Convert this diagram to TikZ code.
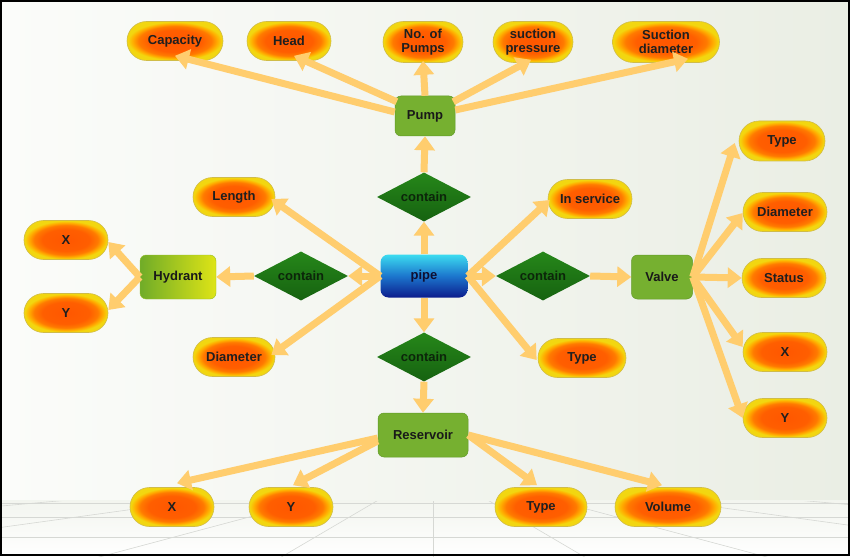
\documentclass[tikz,border=0pt]{standalone}
\usepackage{fontspec}
\setmainfont{Liberation Sans}
\usetikzlibrary{shapes.geometric,shapes.misc,arrows.meta,calc}
\definecolor{arr}{RGB}{255,205,110}
\definecolor{gfill}{RGB}{118,176,48}
\definecolor{gdark}{RGB}{98,155,40}
\definecolor{diatop}{RGB}{38,135,26}
\definecolor{diabot}{RGB}{22,98,16}
\definecolor{pilledge}{RGB}{208,188,72}
\definecolor{bgl}{RGB}{251,252,250}
\definecolor{bgr}{RGB}{234,238,228}
\definecolor{floorc}{RGB}{214,216,212}
\pgfdeclareradialshading{pillshade}{\pgfpoint{0bp}{0bp}}{rgb(0bp)=(1,0.34,0); rgb(14bp)=(1,0.37,0); rgb(19bp)=(1,0.48,0); rgb(22bp)=(1,0.68,0); rgb(24.5bp)=(0.95,0.84,0.06); rgb(50bp)=(0.93,0.85,0.12)}
\begin{document}
\begin{tikzpicture}[x=1pt,y=-1pt,
  txt/.style={font=\fontsize{13}{13.5}\selectfont\bfseries},
  pill/.style={rounded rectangle, shading=pillshade, draw=pilledge, line width=0.6pt,
    minimum height=39pt, minimum width=88pt, inner sep=2pt, txt, text=black!88, align=center},
  gbox/.style={rectangle, rounded corners=6pt, fill=gfill, draw=gdark, line width=0.5pt,
    minimum height=42pt, minimum width=60pt, txt, text=black!90},
  diam/.style={diamond, aspect=1.85, minimum width=94pt, minimum height=49pt, inner sep=0pt,
    top color=diatop, bottom color=diabot, txt, text={rgb,255:red,12;green,38;blue,10}},
  conn/.style={draw=arr, line width=7pt, -{Triangle[width=20pt,length=14pt]}},
  floorline/.style={draw=floorc, line width=0.6pt}]
\useasboundingbox (0,0) rectangle (850,556);
% background
\shade[left color=bgl, right color=bgr] (0,0) rectangle (850,500);
\shade[top color=bgr!60!white, bottom color=white] (0,500) rectangle (850,556);
\begin{scope}
\clip (0,501) rectangle (850,556);
\foreach \k in {0,150,-150,330,-330,640,-640,1000,-1000,2000,-2000}
  \draw[floorline] (433,468) -- ($(433,468)+2*(\k,88)$);
\foreach \yy in {503,517,537}
  \draw[floorline] (0,\yy) -- (850,\yy);
\end{scope}
% nodes
\node[pill, minimum width=100pt] (cap) at (175,41) {Capacity};
\node[pill] (head) at (289,41) {Head};
\node[pill, minimum width=84pt, minimum height=41pt] (nop) at (423,42) {No. of\\Pumps};
\node[pill, minimum width=84pt, minimum height=41pt] (sp) at (533,42) {suction\\pressure};
\node[pill, minimum width=111pt, minimum height=41pt] (sd) at (666,42) {Suction\\diameter};
\node[gbox, minimum height=40pt] (pump) at (425,116) {Pump};
\node[diam] (ctop) at (424,197) {contain};
\node[pill, minimum width=86pt] (len) at (234,197) {Length};
\node[pill] (insv) at (590,199) {In service};
\node[rectangle, rounded corners=8pt, minimum width=87pt, minimum height=43pt,
  top color={rgb,255:red,60;green,220;blue,240}, bottom color={rgb,255:red,12;green,28;blue,140},
  middle color={rgb,255:red,28;green,118;blue,205}, txt, text={rgb,255:red,15;green,15;blue,50}] (pipe) at (424,276) {pipe};
\node[diam] (cleft) at (301,276) {contain};
\node[rectangle, rounded corners=6pt, minimum width=76pt, minimum height=44pt,
  left color={rgb,255:red,112;green,172;blue,40}, right color={rgb,255:red,222;green,228;blue,22},
  draw={rgb,255:red,150;green,190;blue,40}, line width=0.4pt, txt, text=black!90] (hyd) at (178,277) {Hydrant};
\node[pill] (hx) at (66,240) {X};
\node[pill] (hy) at (66,313) {Y};
\node[diam] (cright) at (543,276) {contain};
\node[gbox, minimum width=61pt, minimum height=44pt] (valve) at (662,277) {Valve};
\node[pill, minimum width=90pt, minimum height=40pt] (vtype) at (782,141) {Type};
\node[pill] (vdia) at (785,212) {Diameter};
\node[pill] (vstat) at (784,278) {Status};
\node[pill] (vx) at (785,352) {X};
\node[pill] (vy) at (785,418) {Y};
\node[pill, minimum width=86pt] (ldia) at (234,357) {Diameter};
\node[pill, minimum width=92pt] (mtype) at (582,358) {Type};
\node[diam] (cbot) at (424,357) {contain};
\node[gbox, minimum width=90pt, minimum height=44pt] (res) at (423,435) {Reservoir};
\node[pill] (rx) at (172,507) {X};
\node[pill] (ry) at (291,507) {Y};
\node[pill, minimum width=96pt] (rtype) at (541,507) {Type};
\node[pill, minimum width=110pt] (rvol) at (668,507) {Volume};
% connectors
\draw[conn] ($(pump.west)+(0,-4)$) -- ($(cap.south)+(0,-5)$);
\draw[conn] ($(pump.north west)+(2,6)$) -- ($(head.south)+(5,-5)$);
\draw[conn] (pump.north) -- ($(nop.south)+(0,-2)$);
\draw[conn] ($(pump.north east)+(-2,6)$) -- ($(sp.south)+(-2,-3)$);
\draw[conn] ($(pump.east)+(0,-6)$) -- ($(sd.south)+(22,-4)$);
\draw[conn] (ctop.north) -- (pump.south);
\draw[conn] (pipe.north) -- (ctop.south);
\draw[conn] (pipe.west) -- ($(len.east)+(-4,2)$);
\draw[conn] (pipe.west) -- ($(ldia.east)+(-4,-2)$);
\draw[conn] (pipe.west) -- (cleft.east);
\draw[conn] (cleft.west) -- (hyd.east);
\draw[conn] (hyd.west) -- ($(hx.east)+(0,2)$);
\draw[conn] (hyd.west) -- ($(hy.east)+(0,-3)$);
\draw[conn] (pipe.east) -- ($(insv.west)+(2,1)$);
\draw[conn] (pipe.east) -- ($(mtype.west)+(-1,2)$);
\draw[conn] (pipe.east) -- (cright.west);
\draw[conn] (cright.east) -- (valve.west);
\draw[conn] (valve.east) -- ($(vtype.west)+(-4,2)$);
\draw[conn] (valve.east) -- ($(vdia.west)+(0,1)$);
\draw[conn] (valve.east) -- (vstat.west);
\draw[conn] (valve.east) -- ($(vx.west)+(0,-5)$);
\draw[conn] (valve.east) -- (vy.west);
\draw[conn] (pipe.south) -- (cbot.north);
\draw[conn] (cbot.south) -- (res.north);
\draw[conn] ($(res.west)+(0,3)$) -- ($(rx.north)+(5,-4)$);
\draw[conn] ($(res.west)+(0,6)$) -- ($(ry.north)+(2,-2)$);
\draw[conn] (res.east) -- ($(rtype.north)+(-4,-2)$);
\draw[conn] (res.east) -- ($(rvol.north)+(-6,-2)$);
% frame
\draw[black, line width=2pt] (1,1) rectangle (849,555);
\end{tikzpicture}
\end{document}
